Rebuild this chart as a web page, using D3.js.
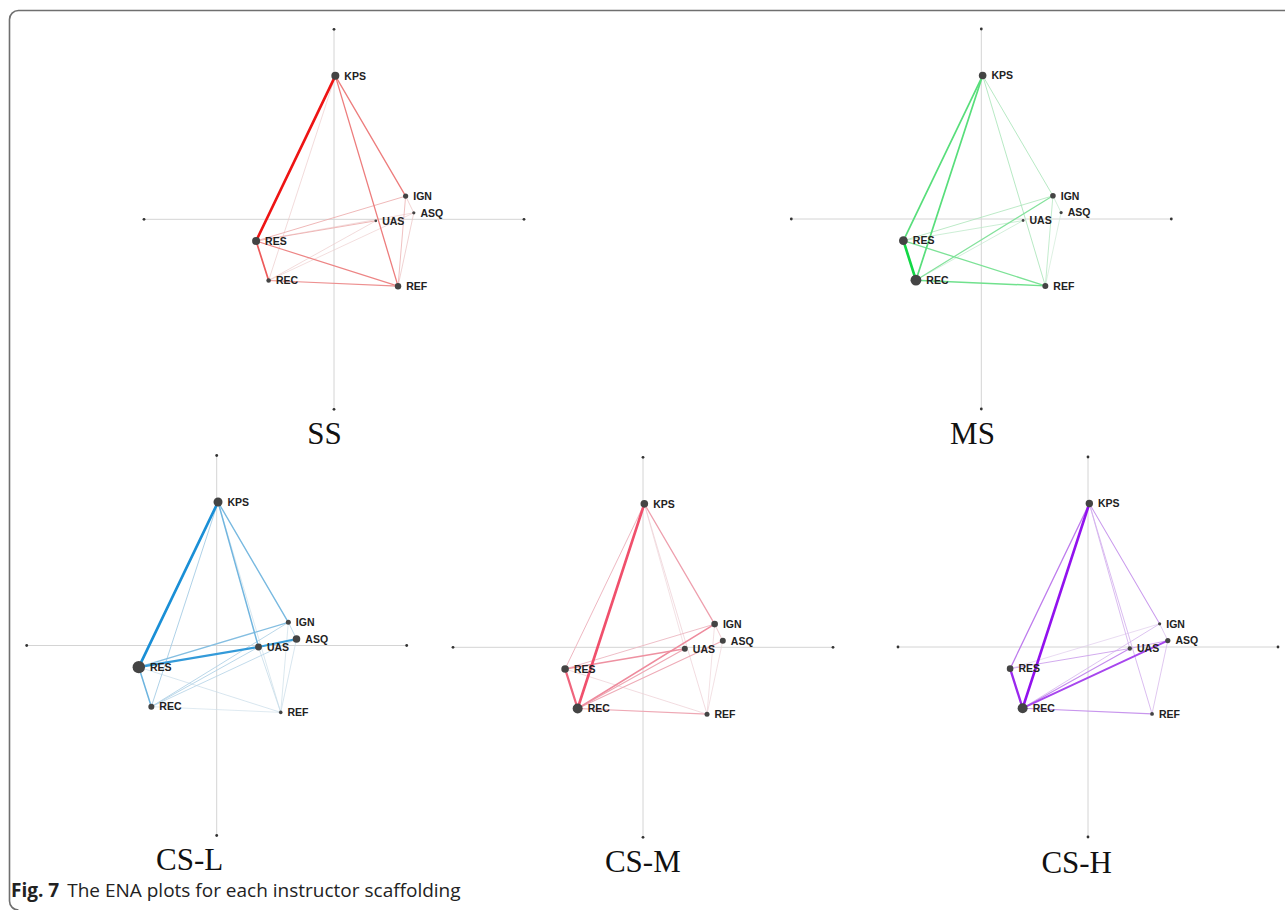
<!DOCTYPE html>
<html>
<head>
<meta charset="utf-8">
<script src="https://cdn.jsdelivr.net/npm/d3@7"></script>
<style>
  html, body { margin: 0; padding: 0; background: #fff; }
  svg { display: block; }
</style>
</head>
<body>
<svg id="chart" width="1285" height="910"></svg>
<script>
// ---- data ----
const codes = ["KPS", "IGN", "ASQ", "UAS", "RES", "REC", "REF"];
const codeX = [0.007, 0.377, 0.420, 0.220, -0.410, -0.344, 0.337];
const codeY = [0.755, 0.122, 0.034, -0.008, -0.114, -0.322, -0.352];

const groups = ["SS", "MS", "CS-L", "CS-M", "CS-H"];
const groupColors = ["#ee1414", "#12d845", "#1a8fd6", "#f0506c", "#9212ee"];

// node sizes (in code order) per group
const nodeSizeSS  = [4.0, 2.6, 1.6, 1.4, 4.0, 2.3, 3.2];
const nodeSizeMS  = [3.8, 2.8, 1.6, 1.4, 4.4, 5.4, 3.0];
const nodeSizeCSL = [4.5, 2.5, 3.8, 3.4, 6.2, 3.0, 1.8];
const nodeSizeCSM = [3.8, 3.3, 3.0, 3.0, 3.8, 5.0, 2.5];
const nodeSizeCSH = [3.7, 1.6, 2.6, 2.2, 3.3, 5.0, 1.9];

// edges [from, to, weight]
const edgesSS = [
  ["KPS","RES",1.0], ["RES","REC",0.55], ["KPS","IGN",0.36], ["KPS","REF",0.36],
  ["RES","REF",0.32], ["REC","REF",0.27], ["RES","IGN",0.15], ["RES","UAS",0.15],
  ["IGN","REF",0.13], ["ASQ","REF",0.08], ["KPS","REC",0.06], ["REC","UAS",0.06],
  ["REC","ASQ",0.05], ["IGN","ASQ",0.08], ["RES","ASQ",0.06]
];
const edgesMS = [
  ["RES","REC",1.0], ["KPS","RES",0.55], ["KPS","REC",0.55], ["REC","REF",0.42],
  ["RES","REF",0.36], ["REC","IGN",0.32], ["KPS","IGN",0.15], ["KPS","REF",0.15],
  ["RES","IGN",0.14], ["RES","UAS",0.10], ["IGN","REF",0.12], ["REC","UAS",0.08],
  ["IGN","ASQ",0.08], ["ASQ","REF",0.05]
];
const edgesCSL = [
  ["KPS","RES",1.0], ["RES","UAS",0.82], ["UAS","ASQ",0.78], ["RES","REC",0.46],
  ["KPS","UAS",0.44], ["KPS","IGN",0.40], ["RES","IGN",0.34], ["KPS","REC",0.18],
  ["REC","IGN",0.15], ["REC","UAS",0.15], ["REC","ASQ",0.13], ["UAS","REF",0.09],
  ["ASQ","REF",0.07], ["IGN","REF",0.06], ["RES","REF",0.07], ["REC","REF",0.05],
  ["IGN","ASQ",0.14], ["KPS","REF",0.06]
];
const edgesCSM = [
  ["KPS","REC",1.0], ["RES","REC",0.80], ["REC","IGN",0.48], ["RES","UAS",0.44],
  ["KPS","IGN",0.34], ["REC","UAS",0.28], ["REC","ASQ",0.26], ["REC","REF",0.28],
  ["KPS","RES",0.20], ["RES","IGN",0.18], ["RES","REF",0.08], ["KPS","REF",0.08],
  ["KPS","UAS",0.06], ["IGN","REF",0.06], ["ASQ","REF",0.06], ["IGN","ASQ",0.14]
];
const edgesCSH = [
  ["KPS","REC",1.0], ["RES","REC",0.85], ["REC","ASQ",0.66], ["KPS","RES",0.36],
  ["REC","UAS",0.28], ["KPS","IGN",0.22], ["REC","REF",0.24], ["RES","UAS",0.18],
  ["REC","IGN",0.12], ["KPS","UAS",0.14], ["KPS","REF",0.14], ["ASQ","REF",0.11],
  ["IGN","ASQ",0.10], ["UAS","ASQ",0.18], ["RES","IGN",0.06]
];

const nodeSizes = [nodeSizeSS, nodeSizeMS, nodeSizeCSL, nodeSizeCSM, nodeSizeCSH];
const edgeSets = [edgesSS, edgesMS, edgesCSL, edgesCSM, edgesCSH];

// ---- layout ----
const panelCenters = [[334, 219.3], [981.3, 219], [216.7, 645.5], [643, 647.3], [1088, 647]];
const titlePos = [[324.5, 444], [972.5, 444], [189.7, 870], [642.8, 872], [1076.7, 873]];
const R = 190;

const svg = d3.select("#chart");

// border
svg.append("path")
  .attr("d", "M1285,10.5 H18.5 A9,9 0 0 0 9.5,19.5 V901 A9,9 0 0 0 18.5,910")
  .attr("fill", "none").attr("stroke", "#6f6f6f").attr("stroke-width", 1.6);

groups.forEach((g, gi) => {
  const [cx, cy] = panelCenters[gi];
  const x = d3.scaleLinear().domain([-1, 1]).range([cx - R, cx + R]);
  const y = d3.scaleLinear().domain([-1, 1]).range([cy + R, cy - R]);
  const p = svg.append("g").attr("class", "panel");

  // axes
  p.append("line").attr("x1", x(-1)).attr("x2", x(1)).attr("y1", y(0)).attr("y2", y(0))
    .attr("stroke", "#d4d4d4").attr("stroke-width", 1);
  p.append("line").attr("x1", x(0)).attr("x2", x(0)).attr("y1", y(-1)).attr("y2", y(1))
    .attr("stroke", "#d4d4d4").attr("stroke-width", 1);
  const ends = [[-1, 0], [1, 0], [0, -1], [0, 1]];
  p.selectAll("circle.end").data(ends).join("circle").attr("class", "end")
    .attr("cx", d => x(d[0])).attr("cy", d => y(d[1])).attr("r", 1.4).attr("fill", "#333");

  const color = groupColors[gi];
  const mix = d3.interpolateRgb("#ececec", color);
  const idx = c => codes.indexOf(c);
  const edges = edgeSets[gi].slice().sort((a, b) => a[2] - b[2]);

  p.selectAll("line.edge").data(edges).join("line").attr("class", "edge")
    .attr("x1", d => x(codeX[idx(d[0])])).attr("y1", d => y(codeY[idx(d[0])]))
    .attr("x2", d => x(codeX[idx(d[1])])).attr("y2", d => y(codeY[idx(d[1])]))
    .attr("stroke", d => mix(Math.pow(d[2], 0.65)))
    .attr("stroke-width", d => 0.55 + 2.1 * d[2])
    .attr("stroke-linecap", "round");

  const sizes = nodeSizes[gi];
  const nodes = codes.map((c, i) => ({ c, x: codeX[i], y: codeY[i], r: sizes[i] }));
  p.selectAll("circle.node").data(nodes).join("circle").attr("class", "node")
    .attr("cx", d => x(d.x)).attr("cy", d => y(d.y)).attr("r", d => d.r).attr("fill", "#444");
  p.selectAll("text.lab").data(nodes).join("text").attr("class", "lab")
    .attr("x", d => x(d.x) + d.r + 5).attr("y", d => y(d.y))
    .attr("dy", "0.36em")
    .attr("font-family", "'Liberation Sans', Arial, sans-serif")
    .attr("font-weight", "bold").attr("font-size", 10.5).attr("fill", "#222")
    .text(d => d.c);

  // title
  svg.append("text").attr("x", titlePos[gi][0]).attr("y", titlePos[gi][1])
    .attr("text-anchor", "middle")
    .attr("font-family", "'Liberation Serif', 'Times New Roman', serif")
    .attr("font-size", 31).attr("fill", "#111")
    .text(g);
});

// caption
const cap = svg.append("text").attr("x", 11).attr("y", 897)
  .attr("font-family", "'Open Sans', 'Noto Sans', sans-serif")
  .attr("font-size", 19).attr("fill", "#222");
cap.append("tspan").attr("font-weight", "bold").text("Fig. 7");
cap.append("tspan").attr("dx", 8).text("The ENA plots for each instructor scaffolding");
</script>
</body>
</html>
